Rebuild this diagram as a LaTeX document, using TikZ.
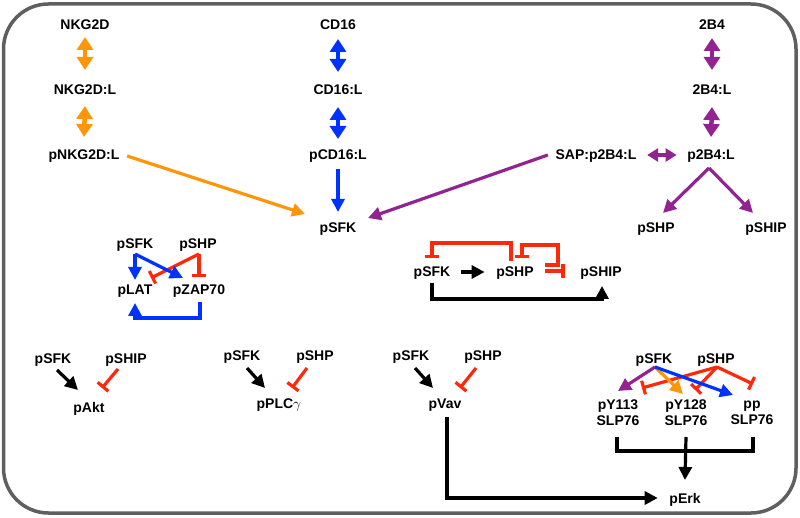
\documentclass[tikz,border=0pt]{standalone}
\usepackage{fontspec}
\setmainfont{Liberation Sans}
\usetikzlibrary{arrows.meta,calc}
\definecolor{corange}{RGB}{255,150,10}
\definecolor{cblue}{RGB}{0,50,255}
\definecolor{cpurple}{RGB}{146,36,146}
\definecolor{cred}{RGB}{255,40,10}
\definecolor{cgray}{RGB}{95,95,95}
\begin{document}
\begin{tikzpicture}[x=1pt,y=-1pt,
  lbl/.style={font=\bfseries\fontsize{14}{16.5}\selectfont, inner sep=1.5pt, text height=10pt, text depth=0pt},
  lbltwo/.style={font=\bfseries\fontsize{14}{16}\selectfont, inner sep=0pt, align=center},
  conn/.style={line width=3.2pt},
  act/.style={conn,-{Triangle[length=13pt,width=13pt]}},
  inh/.style={conn,-{Bar[width=14pt]}},
  dbl/.style={line width=4.5pt,{Triangle[length=13pt,width=16pt]}-{Triangle[length=13pt,width=16pt]}},
  dblh/.style={line width=4pt,{Triangle[length=11pt,width=13pt]}-{Triangle[length=11pt,width=13pt]}},
]
\useasboundingbox (0,0) rectangle (800,518);
\draw[line width=3.5pt, cgray, rounded corners=45pt] (3.5,4) rectangle (796,513);

% top receptors
\node[lbl] (NKG2D) at (85,25) {NKG2D};
\node[lbl] (NKG2DL) at (85,90) {NKG2D:L};
\node[lbl] (pNKG2DL) at (84,155) {pNKG2D:L};
\node[lbl] (CD16) at (338,25) {CD16};
\node[lbl] (CD16L) at (338,90) {CD16:L};
\node[lbl] (pCD16L) at (338,155) {pCD16:L};
\node[lbl] (pSFK) at (338,228) {pSFK};
\node[lbl] (tB4) at (712,25) {2B4};
\node[lbl] (tB4L) at (712,90) {2B4:L};
\node[lbl] (ptB4L) at (711,155) {p2B4:L};
\node[lbl] (SAP) at (596,155) {SAP:p2B4:L};
\node[lbl] (pSHPa) at (656,228) {pSHP};
\node[lbl] (pSHIPa) at (766,228) {pSHIP};

\draw[dbl,corange] ($(NKG2D)+(0,12)$) -- ($(NKG2DL)+(0,-20)$);
\draw[dbl,corange] ($(NKG2DL)+(0,16)$) -- ($(pNKG2DL)+(0,-18)$);
\draw[dbl,cblue] ($(CD16)+(0,14)$) -- ($(CD16L)+(0,-18)$);
\draw[dbl,cblue] ($(CD16L)+(0,17)$) -- ($(pCD16L)+(0,-16)$);
\draw[dbl,cpurple] ($(tB4)+(0,13)$) -- ($(tB4L)+(0,-20)$);
\draw[dbl,cpurple] ($(tB4L)+(0,17)$) -- ($(ptB4L)+(0,-18)$);
\draw[dblh,cpurple] ($(SAP.east)+(9,0)$) -- ($(ptB4L.west)+(-9,0)$);

\draw[act,corange] ($(pNKG2DL.east)+(6,1)$) -- ($(pSFK.west)+(-13,-14)$);
\draw[act,cblue] ($(pCD16L)+(0,14)$) -- ($(pSFK)+(0,-16)$);
\draw[act,cpurple] ($(SAP.west)+(-6,0)$) -- ($(pSFK.east)+(10,-10)$);
\draw[act,cpurple] ($(ptB4L)+(-2,13)$) -- ($(pSHPa)+(7,-15)$);
\draw[act,cpurple] ($(ptB4L)+(-2,13)$) -- ($(pSHIPa)+(-13,-15)$);

% LAT / ZAP70 group
\node[lbl] (pSFKb) at (135,244) {pSFK};
\node[lbl] (pSHPb) at (198,244) {pSHP};
\node[lbl] (pLAT) at (135,290) {pLAT};
\node[lbl] (pZAP) at (199,290) {pZAP70};
\draw[act,cblue] ($(pSFKb)+(0,10)$) -- ($(pLAT)+(0,-10)$);
\draw[inh,cred] ($(pSHPb)+(1,10)$) -- ($(pLAT)+(16,-12)$);
\draw[inh,cred] ($(pSHPb)+(1,10)$) -- ($(pZAP)+(0,-13)$);
\draw[act,cblue] ($(pSFKb)+(0,10)$) -- ($(pZAP)+(-16,-12)$);
\draw[act,cblue] ($(pZAP)+(1,12)$) |- ($(pLAT)+(0,28)$) -- ($(pLAT)+(0,13)$);

% SFK / SHP / SHIP group
\node[lbl] (pSFKc) at (432,272) {pSFK};
\node[lbl] (pSHPc) at (515,272) {pSHP};
\node[lbl] (pSHIPc) at (601,272) {pSHIP};
\draw[act] ($(pSFKc.east)+(9,0)$) -- ($(pSHPc.west)+(-10,0)$);
\draw[inh,cred] ($(pSHPc)+(-4,-11)$) |- ($(pSFKc)+(0,-29)$) -- ($(pSFKc)+(0,-14)$);
\draw[inh,cred] ($(pSHPc)+(30,-7)$) -| ($(pSHPc)+(43,-27)$) -| ($(pSHPc)+(7,-14)$);
\draw[inh,cred] ($(pSHPc)+(30,-1)$) -- ($(pSHIPc.west)+(-14,-1)$);
\draw[act] ($(pSFKc)+(0,11)$) |- ($(pSHIPc)+(1,27)$) -- ($(pSHIPc)+(1,14)$);

% Akt
\node[lbl] (pSFKd) at (53,358) {pSFK};
\node[lbl] (pSHIPd) at (126,358) {pSHIP};
\node[lbl] (pAkt) at (89,407) {pAkt};
\draw[act] ($(pSFKd)+(4,12)$) -- ($(pAkt)+(-11,-17)$);
\draw[inh,cred] ($(pSHIPd)+(-8,11)$) -- ($(pAkt)+(13,-19)$);

% PLCgamma
\node[lbl] (pSFKe) at (242,355) {pSFK};
\node[lbl] (pSHPe) at (315,355) {pSHP};
\node[lbl] (pPLC) at (279,403) {pPLC$\gamma$};
\draw[act] ($(pSFKe)+(5,13)$) -- ($(pPLC)+(-14,-15)$);
\draw[inh,cred] ($(pSHPe)+(-8,13)$) -- ($(pPLC)+(13,-15)$);

% Vav
\node[lbl] (pSFKf) at (411,355) {pSFK};
\node[lbl] (pSHPf) at (483,355) {pSHP};
\node[lbl] (pVav) at (445,403) {pVav};
\draw[act] ($(pSFKf)+(4,13)$) -- ($(pVav)+(-12,-15)$);
\draw[inh,cred] ($(pSHPf)+(-7,13)$) -- ($(pVav)+(15,-15)$);

% SLP76
\node[lbl] (pSFKg) at (654,358) {pSFK};
\node[lbl] (pSHPg) at (716,358) {pSHP};
\node[lbltwo] (pY113) at (618,413) {pY113\\SLP76};
\node[lbltwo] (pY128) at (686,413) {pY128\\SLP76};
\node[lbltwo] (ppSLP) at (752,413) {pp\\SLP76};
\node[lbl] (pErk) at (685,498) {pErk};
\draw[inh,cred] ($(pSHPg)+(1,9)$) -- ($(pY113)+(24,-25)$);
\draw[inh,cred] ($(pSHPg)+(1,9)$) -- ($(pY128)+(9,-23)$);
\draw[inh,cred] ($(pSHPg)+(1,9)$) -- ($(ppSLP)+(1,-29)$);
\draw[act,corange] ($(pSFKg)+(1,9)$) -- ($(pY128)+(-3,-19)$);
\draw[act,cpurple] ($(pSFKg)+(1,9)$) -- ($(pY113)+(0,-22)$);
\draw[act,cblue] ($(pSFKg)+(1,9)$) -- ($(ppSLP)+(-19,-18)$);
\draw[conn] ($(pY113)+(-1,24)$) -- ($(pY113)+(-1,38)$) -| ($(ppSLP)+(1,24)$);
\draw[act] ($(pY128)+(0,24)$) -- ($(pErk)+(0,-18)$);
\draw[act] ($(pVav)+(2,14)$) |- ($(pErk.west)+(-10,0)$);
\end{tikzpicture}
\end{document}
